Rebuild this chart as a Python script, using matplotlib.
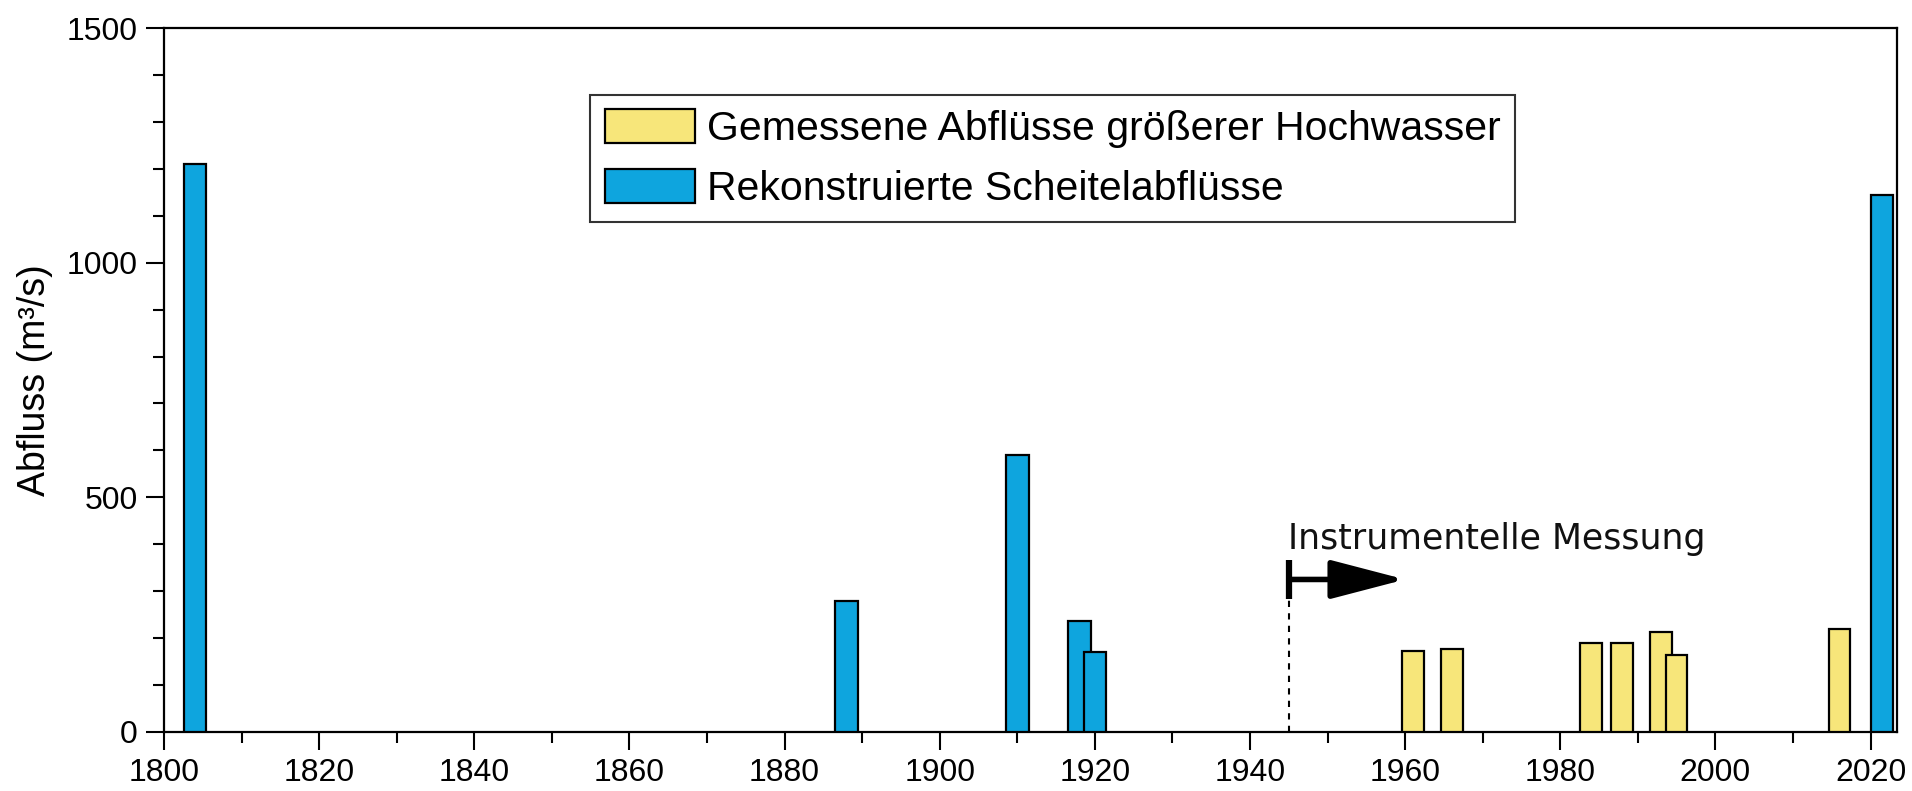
import matplotlib
matplotlib.use("Agg")
import matplotlib.pyplot as plt
from matplotlib.ticker import MultipleLocator

# reconstructed peak discharges (blue)
rekon_years = [1804, 1888, 1910, 1918, 1920, 2021.5]
rekon_values = [1210, 280, 590, 237, 170, 1145]

# measured discharges of larger floods (yellow)
mess_years = [1961, 1966, 1984, 1988, 1993, 1995, 2016]
mess_values = [173, 177, 190, 190, 212, 164, 220]

label_mess = "Gemessene Abflüsse größerer Hochwasser"
label_rekon = "Rekonstruierte Scheitelabflüsse"

start_messung = 1945
arrow_end = 1960
arrow_y = 325
marker_low, marker_high = 284, 367

plt.rcParams['font.family'] = ['Liberation Sans', 'DejaVu Sans']

fig = plt.figure(figsize=(19.12, 7.91), dpi=100)
ax = fig.add_axes([0.0858, 0.0746, 0.9063, 0.89])

ax.bar(rekon_years, rekon_values, width=2.9, color='#0EA5DE', edgecolor='black',
       linewidth=1.6, label=label_rekon, zorder=3)
ax.bar(mess_years, mess_values, width=2.8, color='#F7E67A', edgecolor='black',
       linewidth=1.6, label=label_mess, zorder=3)

# start of instrumental measurements
ax.vlines(start_messung, 0, marker_low, colors='black', linestyles=(0, (3, 3)), linewidth=1.5)
ax.vlines(start_messung, marker_low, marker_high, colors='black', linewidth=4.5)
ax.annotate("", xy=(arrow_end, arrow_y), xytext=(start_messung, arrow_y),
            arrowprops=dict(arrowstyle='-|>,head_length=4.6,head_width=1.2',
                            color='black', lw=4, shrinkA=0, shrinkB=0))
ax.text(start_messung - 0.1, 390, "Instrumentelle Messung", fontsize=25,
        family='DejaVu Sans', ha='left', va='baseline', color='#111111')

ax.set_xlim(1800, 2023.4)
ax.set_ylim(0, 1500)
ax.xaxis.set_major_locator(MultipleLocator(20))
ax.xaxis.set_minor_locator(MultipleLocator(10))
ax.yaxis.set_major_locator(MultipleLocator(500))
ax.yaxis.set_minor_locator(MultipleLocator(100))
ax.tick_params(which='major', direction='out', length=13, width=1.5, labelsize=23, pad=6)
ax.tick_params(which='minor', direction='out', length=8, width=1.5)
for s in ax.spines.values():
    s.set_linewidth(1.6)

ax.set_ylabel("Abfluss (m³/s)", fontsize=27, labelpad=10)

handles, labels = ax.get_legend_handles_labels()
leg = ax.legend(handles[::-1], labels[::-1], loc='upper left', bbox_to_anchor=(0.246, 0.905),
                fontsize=29.5, frameon=True, fancybox=False, edgecolor='black',
                handlelength=2.2, handleheight=0.9, handletextpad=0.3,
                labelspacing=0.5, borderpad=0.35, borderaxespad=0)
leg.get_frame().set_linewidth(1.5)

fig.savefig("out.png", dpi=100)
